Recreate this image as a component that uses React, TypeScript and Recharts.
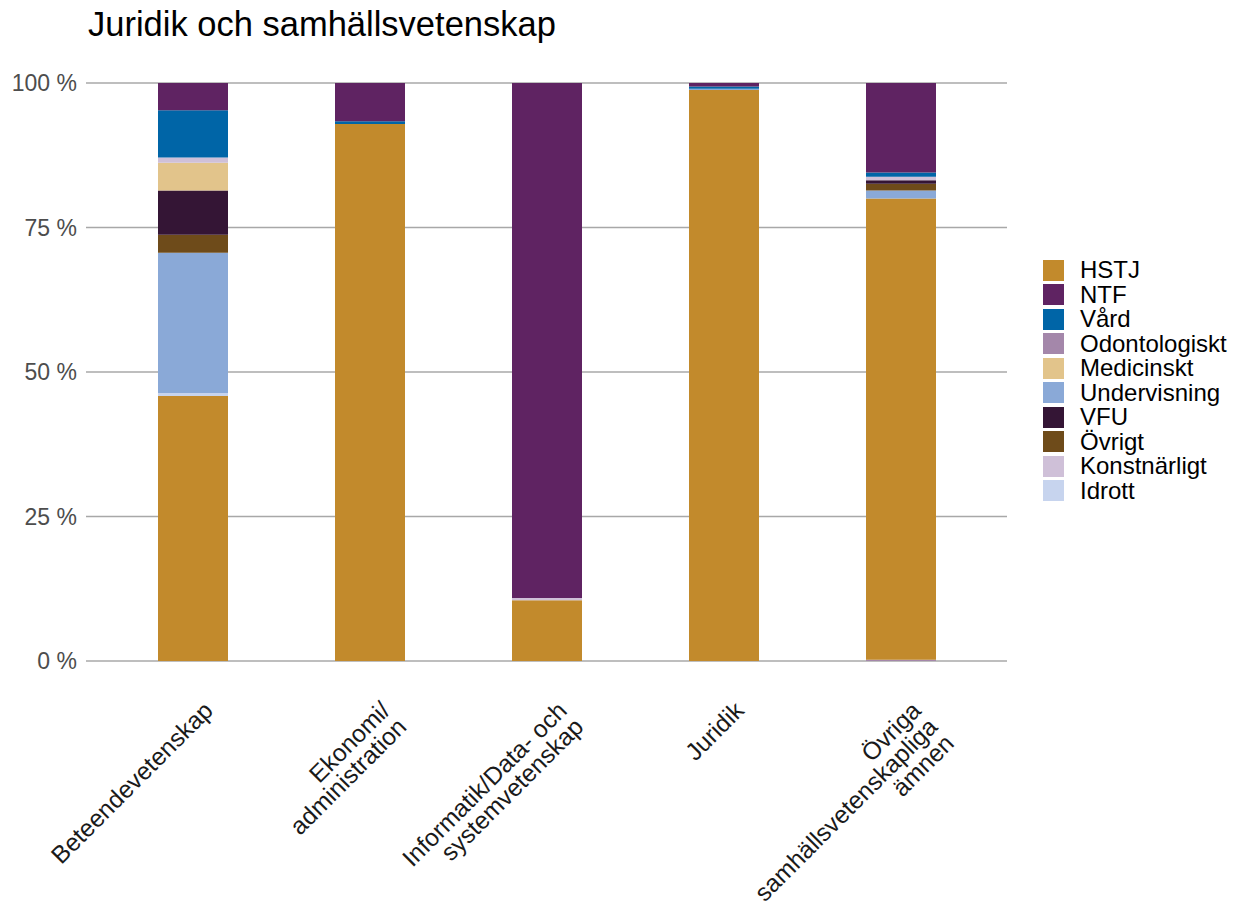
import React from 'react';
import { BarChart, Bar, XAxis, YAxis, CartesianGrid } from 'recharts';

// kategorier (radbrytning med \n)
const categories = [
  'Beteendevetenskap',
  'Ekonomi/\nadministration',
  'Informatik/Data- och\nsystemvetenskap',
  'Juridik',
  'Övriga\nsamhällsvetenskapliga\nämnen',
];

// andel i procent per kategori
const HSTJ = [45.9, 92.9, 10.5, 98.8, 79.9];
const NTF = [4.7, 6.6, 89.1, 0.6, 15.5];
const Vard = [8.2, 0.5, 0, 0.4, 0.75];
const Odontologiskt = [0, 0, 0, 0, 0.2];
const Medicinskt = [4.8, 0, 0, 0, 0];
const Undervisning = [24.3, 0, 0, 0.2, 1.4];
const VFU = [7.7, 0, 0, 0, 0.6];
const Ovrigt = [3.1, 0, 0, 0, 1.15];
const Konstnarligt = [0.9, 0, 0.4, 0, 0.6];
const Idrott = [0.5, 0, 0, 0, 0];

const yTicks = [0, 0.25, 0.5, 0.75, 1];

const series: Record<string, number[]> = {
  HSTJ,
  NTF,
  'Vård': Vard,
  Odontologiskt,
  Medicinskt,
  Undervisning,
  VFU,
  'Övrigt': Ovrigt,
  'Konstnärligt': Konstnarligt,
  Idrott,
};

const COLORS: Record<string, string> = {
  HSTJ: '#c28a2c',
  NTF: '#5f2362',
  'Vård': '#0065a7',
  Odontologiskt: '#a487aa',
  Medicinskt: '#e2c48b',
  Undervisning: '#8aa9d7',
  VFU: '#341535',
  'Övrigt': '#6e4b1a',
  'Konstnärligt': '#cfc0d8',
  Idrott: '#c7d4ee',
};

const legendOrder = ['HSTJ', 'NTF', 'Vård', 'Odontologiskt', 'Medicinskt', 'Undervisning', 'VFU', 'Övrigt', 'Konstnärligt', 'Idrott'];
// ordning nerifrån och upp i staplarna
const stackOrder = ['Odontologiskt', 'HSTJ', 'Idrott', 'Undervisning', 'Övrigt', 'VFU', 'Medicinskt', 'Konstnärligt', 'Vård', 'NTF'];

const data = categories.map((c, i) => {
  const row: any = { category: c };
  legendOrder.forEach((k) => (row[k] = series[k][i]));
  return row;
});

const FONT = '"Liberation Sans", Arial, sans-serif';

const XTick = (props: any) => {
  const { x, y, payload } = props;
  const lines = String(payload.value).split('\n');
  return (
    <g transform={`translate(${x + 22},${y + 51})`}>
      <text transform="rotate(-45)" textAnchor="end" fontSize={24.5} fill="#1a1a1a" fontFamily={FONT}>
        {lines.map((l, i) => (
          <tspan key={i} x={0} dy={i === 0 ? 0 : '0.95em'}>
            {l}
          </tspan>
        ))}
      </text>
    </g>
  );
};

export default function App() {
  return (
    <div style={{ position: 'absolute', left: 0, top: 0, width: 1239, height: 907, background: '#fff', fontFamily: FONT }}>
      <div style={{ position: 'absolute', left: 88, top: 7, fontSize: 34.5, lineHeight: 1, color: '#000', whiteSpace: 'nowrap' }}>
        Juridik och samhällsvetenskap
      </div>
      <BarChart
        width={1239}
        height={907}
        data={data}
        stackOffset="expand"
        margin={{ top: 83, right: 232, bottom: 0, left: 0 }}
      >
        <CartesianGrid vertical={false} stroke="#a8a8a8" strokeWidth={1.3} />
        <XAxis
          dataKey="category"
          height={246}
          axisLine={false}
          tickLine={false}
          tickSize={0}
          tickMargin={0}
          interval={0}
          padding={{ left: 18, right: 18 }}
          tick={<XTick />}
        />
        <YAxis
          width={86}
          domain={[0, 1]}
          ticks={yTicks}
          axisLine={false}
          tickLine={false}
          tickSize={0}
          tickMargin={9}
          tickFormatter={(v: number) => `${Math.round(v * 100)} %`}
          tick={{ fontSize: 23, fill: '#4d4d4d', fontFamily: FONT }}
        />
        {stackOrder.map((k) => (
          <Bar key={k} dataKey={k} stackId="a" fill={COLORS[k]} barSize={70} isAnimationActive={false} />
        ))}
      </BarChart>
      <div style={{ position: 'absolute', left: 1043, top: 258 }}>
        {legendOrder.map((k) => (
          <div key={k} style={{ display: 'flex', alignItems: 'center', height: 24.5 }}>
            <div style={{ width: 21, height: 21, background: COLORS[k] }} />
            <span style={{ marginLeft: 16, fontSize: 24, color: '#000', lineHeight: 1 }}>{k}</span>
          </div>
        ))}
      </div>
    </div>
  );
}
